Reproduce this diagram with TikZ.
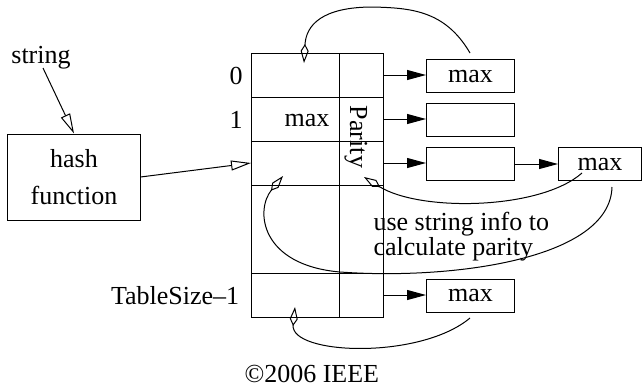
\documentclass[tikz,border=0pt]{standalone}
\usepackage{fontspec}
\setmainfont{Liberation Serif}
\usetikzlibrary{arrows.meta}
\tikzstyle{cell}=[draw, inner sep=0pt, minimum width=88bp, minimum height=44bp]
\tikzstyle{pcell}=[cell, minimum width=44bp]
\tikzstyle{bucket}=[draw, inner sep=0pt, minimum width=88bp, minimum height=33bp]
\tikzstyle{ptr}=[-{Triangle[length=19bp, width=10bp]}]
\tikzstyle{hollow}=[-{Triangle[open, length=20bp, width=10bp]}]
\tikzstyle{back}=[-{Kite[open, length=19bp, width=8bp, inset=7bp]}]

\begin{document}
\begin{tikzpicture}[x=1bp, y=-1bp, line width=1bp, font=\fontsize{26bp}{22bp}\selectfont]
        \useasboundingbox (0,0) rectangle (643,389);
        % hash table
        \node[cell] (r0) at (295.5,75) {};
        \node[cell] (r1) at (295.5,119) {};
        \node[cell] (r2) at (295.5,163) {};
        \node[cell, minimum height=88bp] (r3) at (295.5,229) {};
        \node[cell] (r4) at (295.5,295) {};
        \node[pcell] (p0) at (361.5,75) {};
        \node[pcell] (p1) at (361.5,119) {};
        \node[pcell] (p2) at (361.5,163) {};
        \node[pcell, minimum height=88bp] (p3) at (361.5,229) {};
        \node[pcell] (p4) at (361.5,295) {};
        \node[rotate=-90] (parity) at (356,137) {Parity};
        \node (rmax) at (307,120) {max};
        \node (i0) at (236,76) {0};
        \node (i1) at (236,120) {1};
        \node[anchor=base east] (ilast) at (243,304) {TableSize--1};
        % buckets
        \node[bucket] (b0) at (470.5,76) {max};
        \node[bucket] (b1) at (470.5,120) {};
        \node[bucket] (b2) at (470.5,164) {};
        \node[bucket, minimum width=83bp] (b3) at (600,164) {max};
        \node[bucket] (b4) at (470.5,295.5) {max\hspace{20bp}};
        \draw[ptr] (p0.east) -- (p0.east -| b0.west);
        \draw[ptr] (p1.east) -- (p1.east -| b1.west);
        \draw[ptr] (p2.east) -- (p2.east -| b2.west);
        \draw[ptr] (p4.east) -- (p4.east -| b4.west);
        \draw[ptr] (b2.east) -- (b3.west);
        % hashing
        \node[inner sep=0pt] (str) at (41,58) {string};
        \node[draw, minimum width=132bp, minimum height=86bp, align=center] (hash) at (74,177) {hash\\[15bp]function};
        \draw[hollow] (43,68) -- (hash.north);
        \draw[hollow] (hash.east) -- (r2.west);
        % back pointers
        \coordinate (c0) at (470,53);
        \coordinate (c3a) at (582,173);
        \coordinate (c3b) at (612,187);
        \coordinate (c4) at (470,318);
        \draw[back] (c0) .. controls (445,10) and (410,8) .. (373,7) .. controls (322,7) and (306,25) .. (304,63);
        \draw[back] (c3a) .. controls (540,210) and (420,212) .. (364,177);
        \draw[back] (c3b) .. controls (610,260) and (450,280) .. (340,272) .. controls (260,265) and (255,210) .. (283,176);
        \draw[back] (c4) .. controls (420,360) and (290,355) .. (295,307);
        \node[anchor=north west, inner sep=0pt, align=left] (note) at (373,212) {use string info to\\calculate parity};
        \node[anchor=west, inner sep=0pt] (copy) at (244,374) {\textcopyright2006 IEEE};
    \end{tikzpicture}
\end{document}
